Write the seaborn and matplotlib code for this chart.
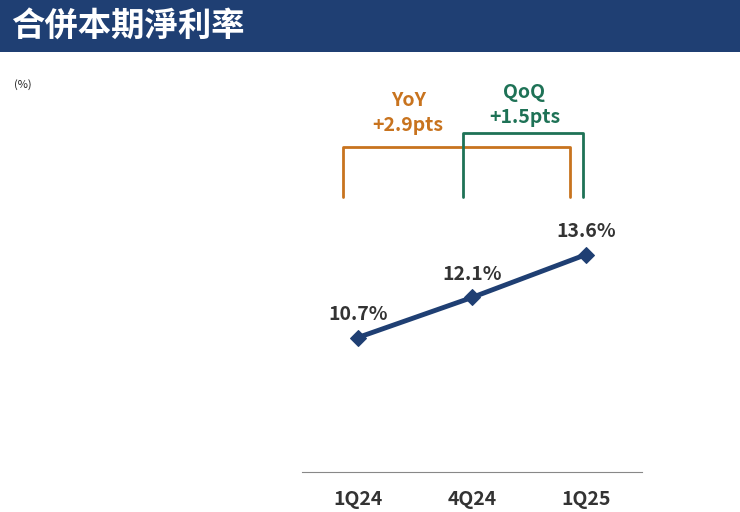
import matplotlib.pyplot as plt
import seaborn as sns
import pandas as pd

quarters = ["1Q24", "4Q24", "1Q25"]
margin = [10.7, 12.1, 13.6]
yoy_text = ["YoY", "+2.9pts"]
qoq_text = ["QoQ", "+1.5pts"]

navy = "#1F3F73"
orange = "#C8731E"
green = "#1E7256"

sns.set_style("white")
plt.rcParams['font.family'] = ['Noto Sans CJK TC', 'DejaVu Sans']

fig = plt.figure(figsize=(7.4, 5.12), dpi=100)

# title bar
bar = fig.add_axes([0, 1 - 52 / 512, 1, 52 / 512])
bar.set_facecolor(navy)
bar.set_xticks([])
bar.set_yticks([])
for s in bar.spines.values():
    s.set_visible(False)
bar.text(0.015, 0.5, "合併本期淨利率", color="white", fontsize=24,
         fontweight="bold", va="center", transform=bar.transAxes)
fig.text(14 / 740, 1 - 85 / 512, "(%)", fontsize=8, color="#222222", va="center")

ax = fig.add_axes([302 / 740, 40 / 512, 340 / 740, 412 / 512])
df = pd.DataFrame({"q": range(len(quarters)), "v": margin})
sns.lineplot(data=df, x="q", y="v", ax=ax, color=navy, lw=3.5,
             marker="D", markersize=8, markeredgecolor=navy)
ax.set_xlim(-0.49, 2.49)
ax.set_ylim(6, 20.4)
ax.set_xticks(range(len(quarters)))
ax.set_xticklabels(quarters, fontsize=14, fontweight="bold", color="#333333")
ax.tick_params(axis="x", length=0, pad=13)
ax.set_yticks([])
ax.set_xlabel("")
ax.set_ylabel("")
for s in ["top", "right", "left"]:
    ax.spines[s].set_visible(False)
ax.spines["bottom"].set_color("#888888")

for i, v in enumerate(margin):
    ax.annotate(f"{v}%", (i, v), xytext=(0, 10), textcoords="offset points",
                ha="center", va="bottom", fontsize=14, fontweight="bold",
                color="#333333")

# brackets
ax.plot([-0.13, -0.13, 1.86, 1.86], [15.6, 17.36, 17.36, 15.6], color=orange, lw=2)
ax.plot([0.92, 0.92, 1.97, 1.97], [15.6, 17.85, 17.85, 15.6], color=green, lw=2)
ax.text(0.44, 19.0, yoy_text[0], ha="center", va="center", fontsize=14,
        fontweight="bold", color=orange)
ax.text(0.44, 18.1, yoy_text[1], ha="center", va="center", fontsize=14,
        fontweight="bold", color=orange)
ax.text(1.46, 19.25, qoq_text[0], ha="center", va="center", fontsize=14,
        fontweight="bold", color=green)
ax.text(1.46, 18.4, qoq_text[1], ha="center", va="center", fontsize=14,
        fontweight="bold", color=green)

fig.savefig("out.png", dpi=100)
